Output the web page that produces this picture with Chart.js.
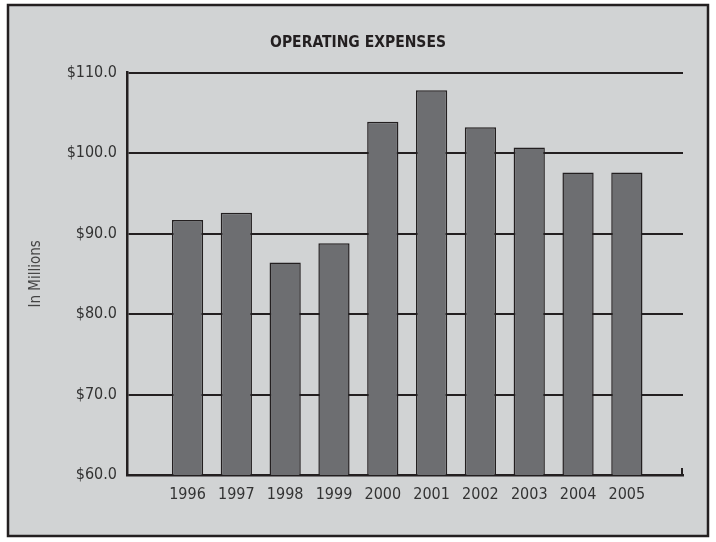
<!DOCTYPE html>
<html>
<head>
<meta charset="utf-8">
<script src="https://cdn.jsdelivr.net/npm/chart.js@4/dist/chart.umd.min.js"></script>
<style>
  html, body { margin: 0; padding: 0; background: #fff; }
  #wrap { width: 716px; height: 542px; }
</style>
</head>
<body>
<div id="wrap"><canvas id="expenses-chart" width="716" height="542"></canvas></div>
<script>
// Chart data
const years = [1996, 1997, 1998, 1999, 2000, 2001, 2002, 2003, 2004, 2005];
const expenses = [91.7, 92.6, 86.4, 88.8, 103.9, 107.8, 103.2, 100.7, 97.6, 97.6];  // in millions
const yTicks = [60, 70, 80, 90, 100, 110];

const chartTitle = 'OPERATING EXPENSES';
const yTitle = 'In Millions';

const narrow = "'Liberation Sans Narrow', 'DejaVu Sans Condensed', 'Arial Narrow', sans-serif";
const ink = '#231f20';

// Grey panel with a dark frame, plus the little end tick on the x axis
const framePlugin = {
    id: 'frame',
    beforeDraw(chart) {
        const ctx = chart.ctx;
        ctx.save();
        ctx.fillStyle = '#d1d3d4';
        ctx.fillRect(8, 5, 700, 531);
        ctx.strokeStyle = ink;
        ctx.lineWidth = 2.5;
        ctx.strokeRect(8, 5, 700, 531);
        ctx.restore();
    },
    afterDraw(chart) {
        const ctx = chart.ctx;
        const a = chart.chartArea;
        ctx.save();
        ctx.strokeStyle = ink;
        ctx.lineWidth = 2;
        ctx.beginPath();
        ctx.moveTo(a.right - 1, a.bottom);
        ctx.lineTo(a.right - 1, a.bottom - 7);
        ctx.stroke();
        ctx.restore();
    }
};

const ctx = document.getElementById('expenses-chart').getContext('2d');
new Chart(ctx, {
    type: 'bar',
    data: {
        datasets: [{
            data: years.map((y, i) => ({ x: y, y: expenses[i] })),
            backgroundColor: '#6d6e71',
            borderColor: ink,
            borderWidth: 1.5,
            borderSkipped: false,
            barPercentage: 0.64,
            categoryPercentage: 1
        }]
    },
    options: {
        responsive: false,
        animation: false,
        layout: { padding: { left: 9, right: 9, top: 28, bottom: 0 } },
        plugins: {
            legend: { display: false },
            tooltip: { enabled: false },
            title: {
                display: true,
                text: chartTitle,
                color: ink,
                font: { family: narrow, size: 15.5, weight: 'bold', lineHeight: 1.2 },
                padding: { top: 6, bottom: 20 }
            }
        },
        scales: {
            x: {
                type: 'linear',
                offset: false,
                min: 1994.76,
                max: 2006.15,
                afterBuildTicks: (scale) => { scale.ticks = years.map(v => ({ value: v })); },
                afterFit: (scale) => { scale.height = 67; },
                grid: { display: false, drawTicks: false },
                border: { display: true, color: ink, width: 2.5 },
                ticks: {
                    autoSkip: false,
                    maxRotation: 0,
                    padding: 10,
                    color: '#333',
                    font: { family: narrow, size: 16 },
                    callback: (v) => String(v)
                }
            },
            y: {
                min: 60,
                max: 110,
                afterBuildTicks: (scale) => { scale.ticks = yTicks.map(v => ({ value: v })); },
                afterFit: (scale) => { scale.width = 118; },
                grid: { color: ink, lineWidth: 2, drawTicks: false },
                border: { display: true, color: ink, width: 2.5 },
                ticks: {
                    padding: 10,
                    color: '#333',
                    font: { family: narrow, size: 16 },
                    callback: (v) => '$' + v.toFixed(1)
                },
                title: {
                    display: true,
                    text: yTitle,
                    color: '#444',
                    font: { family: narrow, size: 15 },
                    padding: { top: 18, bottom: 0 }
                }
            },
            // empty right-hand strip so the title centres on the whole panel
            yRight: {
                position: 'right',
                min: 60,
                max: 110,
                grid: { display: false, drawTicks: false },
                border: { display: false },
                ticks: { display: false },
                afterFit: (scale) => { scale.width = 24; }
            }
        }
    },
    plugins: [framePlugin]
});
</script>
</body>
</html>
